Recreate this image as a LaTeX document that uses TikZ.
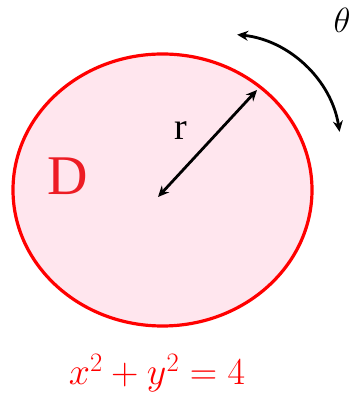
\documentclass[tikz,border=0pt]{standalone}
\usepackage{fix-cm}
\usepackage{fontspec}
\setmainfont{Liberation Serif}
\usetikzlibrary{arrows.meta}
\definecolor{cRim}{RGB}{255,0,0}
\definecolor{cDisk}{RGB}{255,230,238}
\definecolor{cLabel}{RGB}{237,28,36}
\tikzset{
	disk/.style   ={draw=cRim, line width=3.2pt, fill=cDisk},
	dimarrow/.style={{Stealth[length=11pt,width=10pt]}-{Stealth[length=11pt,width=10pt]}, line width=2.8pt},
	bigtext/.style={inner sep=0pt, font=\fontsize{#1}{#1}\selectfont},
}
\begin{document}
\begin{tikzpicture}[x=1pt, y=1pt]
	\useasboundingbox (0,0) rectangle (348,396);
	% region D
	\draw[disk] (162.5,206) ellipse [x radius=149.5, y radius=136];
	\node[bigtext=56, text=cLabel] (lblD) at (68,220) {D};
	% radius
	\coordinate (o) at (158,199);
	\coordinate (p) at (257,306);
	\draw[dimarrow] (o) -- (p);
	\node[bigtext=38] (lblr) at (181,265) {r};
	% rotation angle
	\coordinate (pivot) at (225,246);
	\draw[dimarrow] ([shift={(84:116)}]pivot) arc[start angle=84, end angle=9, radius=116];
	\node[bigtext=35] (lbltheta) at (342,376) {$\theta$};
	% boundary equation
	\node[bigtext=38, text=cRim, anchor=base] (eqn) at (157,11) {$x^2+y^2=4$};
\end{tikzpicture}
\end{document}
